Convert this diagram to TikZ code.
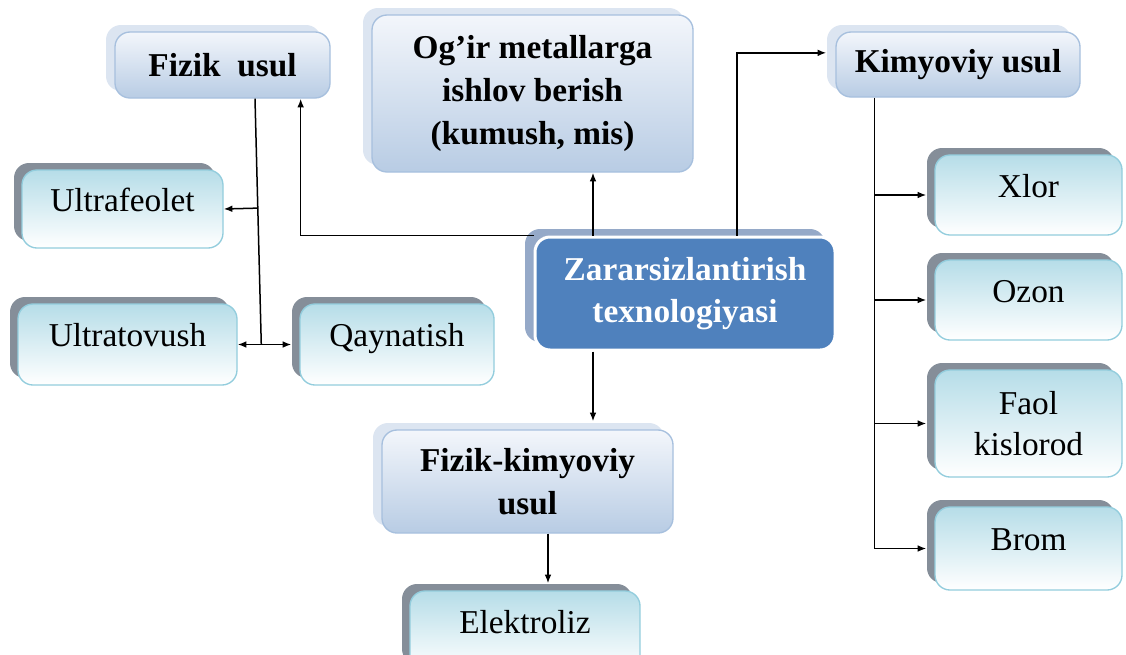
\documentclass[tikz,border=0pt]{standalone}
\usepackage{fontspec}
\setmainfont{Liberation Serif}
\usetikzlibrary{arrows.meta,shadows,calc}

\definecolor{cyantop}{HTML}{B6DDE8}
\definecolor{cyanline}{HTML}{93CDDD}
\definecolor{darkshadow}{HTML}{858E99}
\definecolor{bluetop}{HTML}{F3F6FB}
\definecolor{bluebot}{HTML}{B8CCE4}
\definecolor{blueline}{HTML}{A7C0DE}
\definecolor{paleshadow}{HTML}{DCE5F1}
\definecolor{mainblue}{HTML}{4F81BD}
\definecolor{mainshadow}{HTML}{95A9C8}

\tikzset{
    cbox/.style={draw=cyanline, line width=0.4pt, rounded corners=4.5pt, inner sep=0pt,
        top color=cyantop, bottom color=white, align=center,
        font=\fontsize{10}{12.3}\selectfont,
        drop shadow={shadow xshift=-2.4pt, shadow yshift=2.1pt, fill=darkshadow, opacity=1}},
    cone/.style={cbox, text height=7pt, text depth=5.6pt},
    bbox/.style={draw=blueline, line width=0.4pt, rounded corners=4.5pt, inner sep=0pt,
        top color=bluetop, bottom color=bluebot, align=center,
        font=\fontsize{10}{13}\selectfont\bfseries,
        drop shadow={shadow xshift=-2.7pt, shadow yshift=2.1pt, fill=paleshadow, opacity=1}},
    mainbox/.style={draw=white, line width=0.9pt, rounded corners=4.5pt, inner sep=0pt,
        fill=mainblue, text=white, align=center,
        font=\fontsize{10}{12.6}\selectfont\bfseries,
        drop shadow={shadow xshift=-3pt, shadow yshift=2.4pt, fill=mainshadow, opacity=1}},
    conn/.style={-{Latex[length=2.6pt,width=2pt]}, line width=0.45pt},
}

\begin{document}
\begin{tikzpicture}[x=0.3pt, y=-0.3pt]
    \useasboundingbox (0,0) rectangle (1126,654);
    \fill[white] (0,0) rectangle (1126,654);

    % top row
    \node[bbox, minimum width=64.5pt, minimum height=19.8pt] (fizik) at (222.5,65) {Fizik\ \ usul};
    \node[bbox, minimum width=96.3pt, minimum height=47.1pt] (ogir) at (532.5,93.5) {Og’ir metallarga\\ishlov berish\\(kumush, mis)};
    \node[bbox, minimum width=73.2pt, minimum height=19.5pt] (kimyo) at (958,64.5) {Kimyoviy usul};

    % centre
    \node[mainbox, minimum width=90pt, minimum height=33.9pt] (zarar) at (685,293.5) {Zararsizlantirish\\texnologiyasi};
    \node[bbox, minimum width=87.3pt, minimum height=30.9pt] (fkim) at (527.5,481.5) {Fizik-kimyoviy\\usul};
    \node[cone, minimum width=69pt, minimum height=24pt] (elek) at (525,631) {Elektroliz};

    % left side
    \node[cone, minimum width=60.3pt, minimum height=23.4pt] (ultraf) at (122.5,209) {Ultrafeolet};
    \node[cone, minimum width=65.7pt, minimum height=24.3pt] (ultrat) at (127.5,344.5) {Ultratovush};
    \node[cone, minimum width=58.2pt, minimum height=24.3pt] (qayn) at (397,344.5) {Qaynatish};

    % right side
    \node[cone, minimum width=56.1pt, minimum height=24pt] (xlor) at (1028.5,195) {Xlor};
    \node[cone, minimum width=56.1pt, minimum height=24pt] (ozon) at (1028.5,300) {Ozon};
    \node[cbox, minimum width=56.1pt, minimum height=32.1pt] (faol) at (1028.5,423.5) {Faol\\kislorod};
    \node[cone, minimum width=56.1pt, minimum height=24.9pt] (brom) at (1028.5,548.5) {Brom};

    % connectors from the centre
    \draw[conn] (zarar.north west) -| ([xshift=-9pt]fizik.south east);
    \draw[conn] ([xshift=-27.6pt]zarar.north) -- ([xshift=-27.6pt]zarar.north |- ogir.south);
    \draw[conn] ([xshift=15.6pt]zarar.north) |- ([xshift=-2.7pt,yshift=3.5pt]kimyo.west);
    \draw[conn] ([xshift=-27.6pt]zarar.south) -- ([xshift=-27.6pt,yshift=2.4pt]zarar.south |- fkim.north);
    \draw[conn] ([xshift=6.15pt]fkim.south) -- ([xshift=6.15pt,yshift=2.1pt]fkim.south |- elek.north);

    % physical methods
    \coordinate (ftop) at ([xshift=9.75pt]fizik.south);
    \coordinate (fbot) at ($(ultrat.east)!0.44!([xshift=-2.4pt]qayn.west)$);
    \draw[line width=0.45pt] (ftop) -- (fbot);
    \draw[conn] ($(ftop)!(ultraf.east)!(fbot)$) -- (ultraf.east);
    \draw[{Latex[length=2.6pt,width=2pt]}-{Latex[length=2.6pt,width=2pt]}, line width=0.45pt] (ultrat.east) -- ([xshift=-2.4pt]qayn.west);

    % chemical methods
    \coordinate (ktop) at ([xshift=11.7pt]kimyo.south west);
    \draw[line width=0.45pt] (ktop) -- (ktop |- brom.west);
    \foreach \n in {xlor,ozon,faol,brom}
        \draw[conn] (ktop |- \n.west) -- ([xshift=-2.4pt]\n.west);
\end{tikzpicture}
\end{document}
